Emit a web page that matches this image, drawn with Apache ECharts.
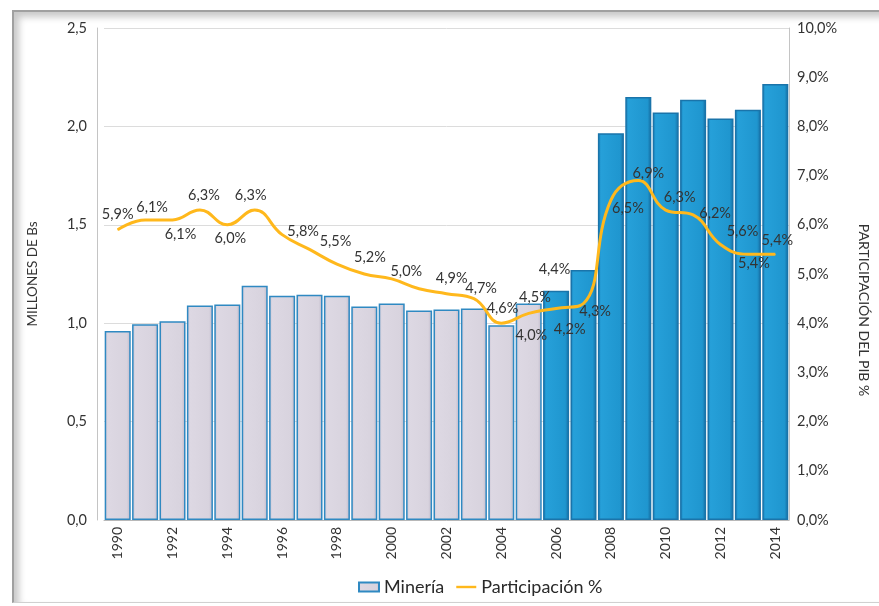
<!DOCTYPE html>
<html>
<head>
<meta charset="utf-8">
<script src="https://cdn.jsdelivr.net/npm/echarts@6/dist/echarts.min.js"></script>
<style>
  html, body { margin: 0; padding: 0; background: #ffffff; }
  #frame {
    position: absolute; left: 12px; top: 10px; width: 880px; height: 590px;
    border-top: 2px solid #a0a0a0; border-left: 2px solid #a0a0a0; border-bottom: 1px solid #d0d0d0;
    box-shadow: inset 5px 5px 7px rgba(0,0,0,0.22);
    background: #ffffff;
  }
  #chart { position: absolute; left: 0; top: 0; width: 879px; height: 606px; }
</style>
</head>
<body>
<div id="frame"></div>
<div id="chart"></div>
<script>
// ---- data ----
const years = ['1990','1991','1992','1993','1994','1995','1996','1997','1998','1999','2000','2001','2002',
               '2003','2004','2005','2006','2007','2008','2009','2010','2011','2012','2013','2014'];
const mineria = [0.96, 0.995, 1.01, 1.09, 1.095, 1.19, 1.14, 1.145, 1.14, 1.085, 1.10, 1.065, 1.07,
                 1.075, 0.99, 1.10, 1.165, 1.27, 1.965, 2.15, 2.07, 2.135, 2.04, 2.085, 2.215];
const participacion = [5.9, 6.1, 6.1, 6.3, 6.0, 6.3, 5.8, 5.5, 5.2, 5.0, 4.9, 4.7, 4.6,
                       4.5, 4.0, 4.2, 4.3, 4.4, 6.5, 6.9, 6.3, 6.2, 5.6, 5.4, 5.4];
const seriesNames = ['Minería', 'Participación %'];
const leftAxisName = 'MILLONES DE Bs';
const rightAxisName = 'PARTICIPACIÓN DEL PIB %';
const highlightFrom = '2006';

// ---- styles ----
const labelOffsets = [[0,-15],[7,-13],[8,14],[4,-15],[3,14],[-4,-15],[21,-3],[26,-8],[33,-7],[42,-3],
  [60,-1],[62,0],[56,15],[61,-1],[30,12],[41,16],[39,3],[-29,-34],[17,8],[10,-7],[14,-13],[22,-2],
  [22,-13],[6,9],[2,-14]];
const FONT = 'Lato';
const grayFill = new echarts.graphic.LinearGradient(0,0,1,0,[
  {offset:0,color:'#c6bfcf'},{offset:0.12,color:'#ddd8e3'},{offset:0.85,color:'#d8d3de'},{offset:1,color:'#beb7c8'}]);
const blueFill = new echarts.graphic.LinearGradient(0,0,1,0,[
  {offset:0,color:'#177fb8'},{offset:0.12,color:'#26a0d9'},{offset:0.85,color:'#1f96cf'},{offset:1,color:'#166ea2'}]);
const comma = (v, d) => v.toFixed(d).replace('.', ',');

const startIdx = years.indexOf(highlightFrom);
const barData = mineria.map((v, i) => i >= startIdx
  ? { value: v, itemStyle: { color: blueFill, borderColor: '#1a74aa' } }
  : { value: v });
const lineData = participacion.map((v, i) => ({
  value: v,
  label: { offset: labelOffsets[i] }
}));

const chart = echarts.init(document.getElementById('chart'));
chart.setOption({
  animation: false,
  textStyle: { fontFamily: FONT },
  grid: { left: 104, right: 88, top: 28, bottom: 86 },
  legend: {
    bottom: 5, left: 353, itemGap: 12, itemWidth: 20, itemHeight: 9,
    textStyle: { fontFamily: FONT, fontSize: 18, color: '#2a2a2a' },
    data: [
      { name: seriesNames[0], icon: 'rect' },
      { name: seriesNames[1], icon: 'path://M0,0 H20 V2.4 H0 Z' }
    ]
  },
  xAxis: {
    type: 'category', data: years,
    axisLine: { lineStyle: { color: '#b8b8b8' } },
    axisTick: { show: false },
    axisLabel: { interval: 1, rotate: 90, fontSize: 14, color: '#333', margin: 7, fontFamily: FONT }
  },
  yAxis: [
    {
      type: 'value', min: 0, max: 2.5, interval: 0.5, offset: 7,
      name: leftAxisName, nameLocation: 'middle', nameGap: 57,
      nameTextStyle: { fontSize: 13.5, color: '#333', fontFamily: FONT },
      axisLine: { show: true, lineStyle: { color: '#c4c4c4' } },
      axisTick: { show: false },
      axisLabel: { formatter: v => comma(v, 1), fontSize: 14.5, color: '#333', margin: 10, fontFamily: FONT },
      splitLine: { lineStyle: { color: '#dcdcdc' } }
    },
    {
      type: 'value', min: 0, max: 10, interval: 1,
      name: rightAxisName, nameLocation: 'middle', nameGap: 68, nameRotate: -90,
      nameTextStyle: { fontSize: 14, color: '#333', fontFamily: FONT, padding: [0, 0, 0, 72] },
      axisLine: { show: true, lineStyle: { color: '#c4c4c4' } },
      axisTick: { show: false },
      axisLabel: { formatter: v => comma(v, 1) + '%', fontSize: 14.5, color: '#333', margin: 8, fontFamily: FONT },
      splitLine: { show: false }
    }
  ],
  series: [
    {
      name: seriesNames[0], type: 'bar', yAxisIndex: 0, data: barData,
      barWidth: '95%',
      itemStyle: { color: grayFill, borderColor: '#2f89c2', borderWidth: 1.5 }
    },
    {
      name: seriesNames[1], type: 'line', yAxisIndex: 1, data: lineData,
      smooth: 0.45, symbol: 'circle', symbolSize: 1, showSymbol: true,
      lineStyle: { color: '#FFB81C', width: 3 },
      itemStyle: { color: '#FFB81C' },
      label: {
        show: true, position: 'inside', fontSize: 14.5, color: '#333', fontFamily: FONT,
        formatter: p => comma(p.value, 1) + '%'
      },
      z: 5
    }
  ]
});
</script>
</body>
</html>
